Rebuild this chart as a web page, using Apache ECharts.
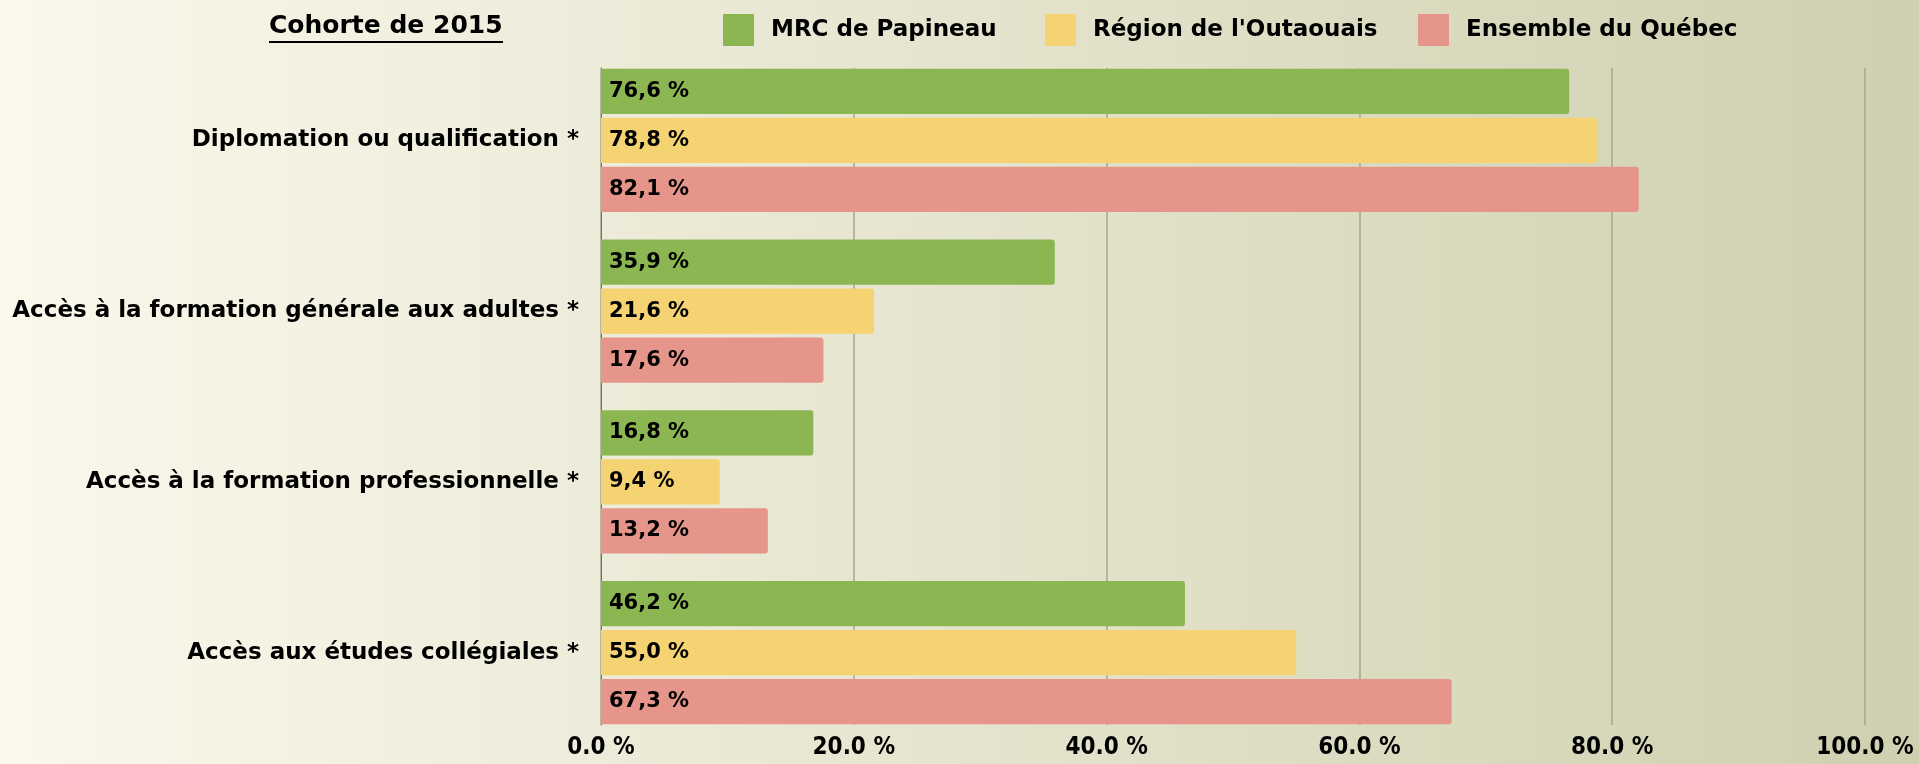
<!DOCTYPE html>
<html>
<head>
<meta charset="utf-8">
<script src="https://cdn.jsdelivr.net/npm/echarts@6/dist/echarts.min.js"></script>
<style>
html,body{margin:0;padding:0;}
#chart{width:1919px;height:764px;}
</style>
</head>
<body>
<div id="chart"></div>
<script>
const categories = [
  "Diplomation ou qualification *",
  "Accès à la formation générale aux adultes *",
  "Accès à la formation professionnelle *",
  "Accès aux études collégiales *"
];
const seriesNames = ["MRC de Papineau", "Région de l'Outaouais", "Ensemble du Québec"];
const papineau = [76.6, 35.9, 16.8, 46.2];
const outaouais = [78.8, 21.6, 9.4, 55.0];
const quebec = [82.1, 17.6, 13.2, 67.3];
const xTicks = [0, 20, 40, 60, 80, 100];
const titleText = "Cohorte de 2015";

const colors = ["#8cb652", "#f5d372", "#e59589"];
const mainFont = "'DejaVu Sans', sans-serif";
const narrowFont = "'DejaVu Sans Condensed', sans-serif";

const chart = echarts.init(document.getElementById('chart'));

const values = [papineau, outaouais, quebec];
const series = seriesNames.map((name, i) => ({
  name: name,
  type: 'bar',
  xAxisIndex: 1,
  yAxisIndex: 1,
  data: values[i],
  barGap: '8%',
  barCategoryGap: '16%',
  itemStyle: { color: colors[i], borderRadius: [0, 3, 3, 0] },
  label: {
    show: true,
    position: 'insideLeft',
    distance: 8,
    color: '#000',
    fontFamily: mainFont,
    fontWeight: 'bold',
    fontSize: 21,
    formatter: p => p.value.toFixed(1).replace('.', ',') + ' %'
  },
  emphasis: { disabled: true },
  animation: false
}));

const legendLefts = [718, 1040, 1413];
const legends = seriesNames.map((name, i) => ({
  data: [name],
  left: legendLefts[i],
  top: 9,
  itemWidth: 31,
  itemHeight: 32,
  icon: 'rect',
  selectedMode: false,
  textStyle: {
    fontFamily: mainFont,
    fontWeight: 'bold',
    fontSize: 23,
    color: '#000',
    padding: [0, 0, 0, 12]
  }
}));

const option = {
  animation: false,
  backgroundColor: {
    type: 'linear', x: 0, y: 0, x2: 1, y2: 0,
    colorStops: [
      { offset: 0, color: '#fbf8ec' },
      { offset: 1, color: '#cfd0b0' }
    ]
  },
  legend: legends,
  graphic: [
    {
      type: 'text',
      left: 269,
      top: 14,
      style: {
        text: titleText,
        font: 'bold 25px ' + mainFont,
        fill: '#000'
      }
    },
    {
      type: 'line',
      shape: { x1: 269, y1: 42, x2: 503, y2: 42 },
      style: { stroke: '#000', lineWidth: 2 }
    }
  ],
  grid: [
    { left: 601, right: 54, top: 68, bottom: 39 },
    { left: 601, right: 54, top: 55, bottom: 26 }
  ],
  xAxis: [
    {
      gridIndex: 0,
      type: 'value',
      min: xTicks[0],
      max: xTicks[xTicks.length - 1],
      interval: xTicks[1] - xTicks[0],
      axisLine: { show: false },
      axisTick: { show: false },
      splitLine: { show: true, lineStyle: { color: '#a6a68f', width: 1.5 } },
      axisLabel: {
        margin: 11,
        color: '#000',
        fontFamily: narrowFont,
        fontWeight: 'bold',
        fontSize: 24,
        formatter: v => v.toFixed(1) + ' %'
      }
    },
    {
      gridIndex: 1,
      type: 'value',
      min: xTicks[0],
      max: xTicks[xTicks.length - 1],
      show: false,
      splitLine: { show: false }
    }
  ],
  yAxis: [
    {
      gridIndex: 0,
      type: 'category',
      data: categories,
      inverse: true,
      axisLine: { show: true, lineStyle: { color: '#6e6e6e', width: 1 } },
      axisTick: { show: false },
      axisLabel: { show: false },
      splitLine: { show: false }
    },
    {
      gridIndex: 1,
      type: 'category',
      data: categories,
      inverse: true,
      axisLine: { show: false },
      axisTick: { show: false },
      splitLine: { show: false },
      axisLabel: {
        margin: 22,
        color: '#000',
        fontFamily: mainFont,
        fontWeight: 'bold',
        fontSize: 23
      }
    }
  ],
  series: series
};

chart.setOption(option);
</script>
</body>
</html>
